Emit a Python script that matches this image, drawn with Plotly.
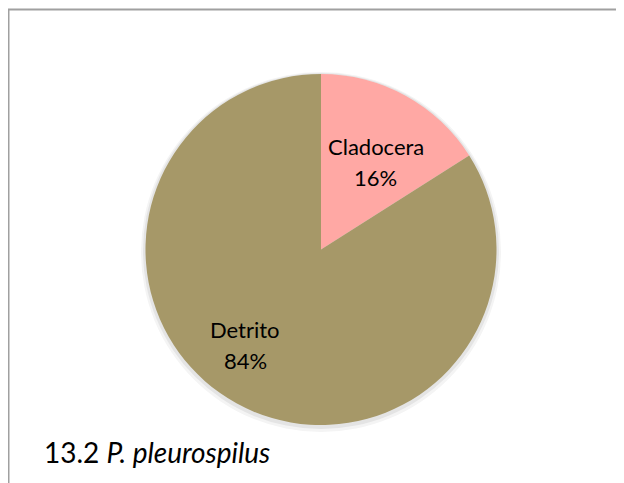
import math
import plotly.graph_objects as go

categories = ["Cladocera", "Detrito"]
values = [16, 84]
colors = ["#FFA8A4", "#A69868"]
title_text = "13.2 <i>P. pleurospilus</i>"

# ---- layout / style (pixel geometry of the reference) ----
W, H = 624, 483
OFF = 8                     # browser body margin
CX, CY, R = 321, 249.5, 175.5
# label placement: (fraction of radius, angular tweak in degrees vs. slice mid-angle)
label_place = {"Cladocera": (0.58, 3.6), "Detrito": (0.704, 9.1)}
LINE_GAP = 15.5
FONT = "Lato"
# soft shadow halo layers: (extra radius, downward shift, colour)
shadow_layers = [(4.5, 2.5, "#F4F4F4"), (2.5, 1.5, "#E4E4E4")]


def px(x):
    return (x - OFF) / W


def py(y):
    return 1 - (y - OFF) / H


def dom(cx, cy, r):
    return dict(x=[px(cx - r), px(cx + r)], y=[py(cy + r), py(cy - r)])


fig = go.Figure()
for extra, shift, col in shadow_layers:
    fig.add_trace(go.Pie(
        values=[1], labels=["shadow"], sort=False,
        marker=dict(colors=[col], line=dict(width=0)),
        textinfo="none", hoverinfo="skip", showlegend=False,
        domain=dom(CX, CY + shift, R + extra)))

fig.add_trace(go.Pie(
    labels=categories,
    values=values,
    sort=False,
    direction="clockwise",
    rotation=0,
    marker=dict(colors=colors, line=dict(width=0)),
    textinfo="none",
    hoverinfo="label+percent",
    showlegend=False,
    domain=dom(CX, CY, R),
))

annotations = []
total = sum(values)
cum = 0
for cat, v in zip(categories, values):
    mid = (cum + v / 2) / total * 360
    cum += v
    frac, tweak = label_place[cat]
    ang = math.radians(mid + tweak)
    lx = CX + frac * R * math.sin(ang)
    ly = CY - frac * R * math.cos(ang)
    pct = f"{round(v / total * 100)}%"
    for txt, dy in ((cat, -LINE_GAP), (pct, LINE_GAP)):
        annotations.append(dict(
            text=txt, xref="paper", yref="paper",
            x=px(lx), y=py(ly + dy - 2), xanchor="center", yanchor="middle",
            showarrow=False, font=dict(family=FONT, size=22, color="#000000")))

annotations.append(dict(
    text=title_text, xref="paper", yref="paper",
    x=px(42), y=py(452), xanchor="left", yanchor="middle",
    showarrow=False, font=dict(family=FONT, size=28, color="#000000")))

fig.update_layout(
    width=W, height=H,
    margin=dict(l=0, r=0, t=0, b=0),
    paper_bgcolor="white",
    plot_bgcolor="white",
    shapes=[dict(type="rect", xref="paper", yref="paper",
                 x0=px(8.5), x1=1.1, y0=-0.1, y1=py(9.5),
                 line=dict(color="#A0A0A0", width=2))],
    annotations=annotations,
)

fig.write_html("out.html")
